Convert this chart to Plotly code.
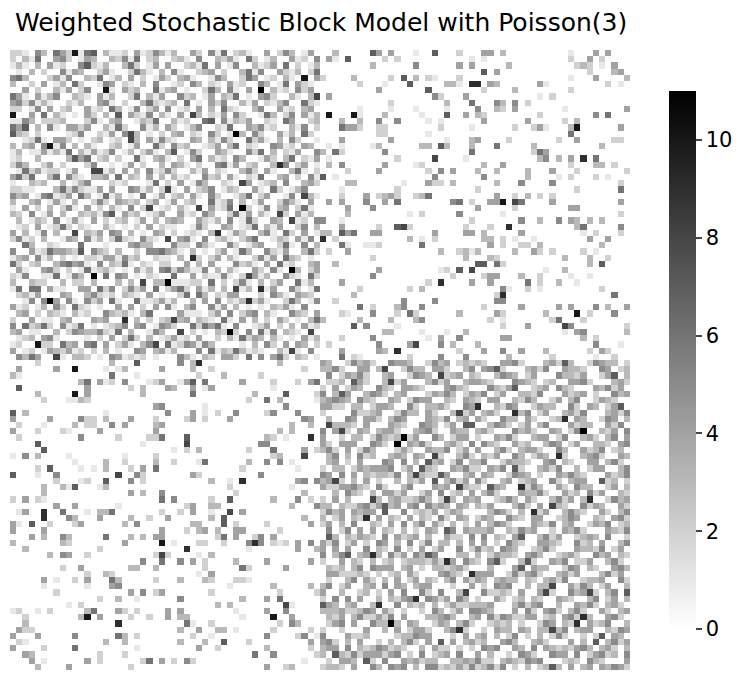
import numpy as np
import plotly.graph_objects as go

# Weighted SBM, 2 blocks of 50 nodes, Poisson(3) weights.
# Matrix is symmetric; values in 25x25 tiles,
# upper triangle only (hex digits 0-b). Diagonal tiles start at the diagonal.
N = 100
TILE = 25

T00 = ["2210530642a16703112041253", "031600452014300325160230", "10304120057213003620140",
       "3020051430024100263103", "002415003260130402014", "40130620015402103050",
       "031402500a104230061", "500321041300260314", "02130045102003621", "3004120630150240",
       "104203070421503", "02510340013260", "4003162005130", "021405830102", "30120830415",
       "0230140062", "501302410", "20061034", "1402003", "030512", "20403", "0160", "302", "14", "0"]

T01 = ["1300420516023100402530140", "0231050032410620130041205", "4002316040150031240602013",
       "0510023402003615004213026", "2034100153002640120310a04", "0120530210412005301604210",
       "340100263051040b031205240", "0052301403260104520031038", "2306010425003140213500621",
       "5012040306210035004120340", "1040830214052001630250413", "0312006705132400210640023",
       "4201350021600435120031502", "03402105201b3052004130620", "2100430315200624103052001",
       "0523001240360210054120430", "3701520043100526030214005", "1020460312053001420360214",
       "0431020056140230039502401", "5200314021003520410036102", "0312005230410216003402051",
       "2040153002108401230500342", "8104023501320041062013500", "0230410520013602400150831",
       "1402300612503014002531040"]

T02 = ["0030000074040001007000200", "0410700000202000000000001", "0000000030000005000000404",
       "0000000000000000000000000", "2000030000020703021000200", "0000002000100070000033109",
       "0000000004000000070000000", "0400000000000000005200040", "0000000000020000000030006",
       "0000001000010001000010000", "0a000a1000300000100070040", "0003003005005000010100000",
       "0006442002200000000200001", "0000000002200000010000000", "0004000000040000000010003",
       "0101000013000000330730003", "3062000000500000000000006", "0100000000002000008000010",
       "0305000000400001200000000", "0000200004000000020504000", "7010000000000000005000000",
       "0000330000000100042203000", "0001000000002000000000000", "0002000402342002360000000",
       "0404000500406000000005602"]

T03 = ["0440300000000001000404000", "0100000000000002004020000", "0000030000000000232010400",
       "0704000000000000002000340", "0000000000000001000400003", "9043000000410000000002010",
       "0200003000000002000000000", "0000000000102000000000000", "0005305020000000000000000",
       "5003204000000010000000004", "3200000000200000000506000", "0400000040000020300000000",
       "0000002002410003a00000040", "0000000000000006000000000", "4000020000000200400000220",
       "0006000003000000000030000", "0000000002640000000000000", "0000000000350304090600000",
       "0300400000000002000330200", "3003000030004000200000002", "0500000030000102000201000",
       "0003000500005000000000020", "2000000000000000200000060", "0004002030202000000000000",
       "0044a08600004000000000040"]

T11 = ["203108041260b201503402610", "041205300261403108204130", "30042130501620043081205",
       "0152004301260314002503", "210390142003510620401", "05023102460013204150",
       "3100520134002610503", "024016300521400362", "40310025140632010", "0052310406120034",
       "3100420510b3024", "02841300521062", "5103024006130", "309140052016", "02053104320",
       "4100263015", "032410500", "10053204", "4201036", "030412", "21080", "0413", "302", "50", "1"]

T12 = ["0000400050000000000000000", "0000300000000010200000500", "5001000000000000000000002",
       "0004000002007820000000020", "3307460044000000004000044", "9020000000000030102000000",
       "0006100112000000600000000", "0200400000000000000300231", "0000000020000000000000030",
       "0030000000000000000000000", "0000000004000000000120708", "0000000050000000000002000",
       "0004000000000000020900004", "0000002000000020300000000", "0000030000000000000000000",
       "0020000000000500005000000", "0000006020003500500000000", "0002100050002062000000300",
       "3000003000030003500000000", "0000070500001000000000000", "0000000000330000100010030",
       "0002000050000000010400500", "0200000005000048000503000", "0004000004309000000000200",
       "0006021000000020000500050"]

T13 = ["4000002000000004400000000", "0000100000000000000000020", "0000000500300504303030000",
       "0020090000000000360000050", "0300000400000000010200020", "0330201001000000004004000",
       "0040200220300000000030000", "3000003004202000020100000", "0032000000000030003002000",
       "7706200000000000003070000", "0000000000010030000000000", "0244000300200001001000000",
       "0040000060200300100000000", "0000510020100000000020000", "0002900000000000000000600",
       "0005500000000000000000000", "0200000400000404000503004", "0004200000030000a02000500",
       "0020100000002600020000000", "0000200040000085000000002", "0000000000000010450000003",
       "0000440000000000030200000", "3000000000000000000500010", "0400500400030000002042000",
       "0000030000002000000100200"]

T22 = ["4300253420054430025340232", "352004403800253304420035", "02435200340025430823403",
       "3074200382400035240034", "243005320443200045320", "00354203400024353024",
       "5320043025440032043", "024430052033420054", "34002533042003824", "2035400043250340",
       "043200543024077", "42003452004330", "3b24005302440", "043520034205", "20043350240",
       "4308200352", "073402503", "32004352", "2740034", "035240", "40832", "2304", "043", "30", "0"]

T23 = ["3200445200034273002543302", "0457200034250043320054023", "2003543024000533240024703",
       "4320005432023004452000342", "0053247002340532000435240", "3502400332500042340200534",
       "2044003253002403500243200", "9003254002433005204302470", "0342009350240034250003425",
       "4200533042002390430025403", "0035420240350004233004250", "34200053420043025b0032405",
       "2004352003440250034203504", "0532004230035402400332045", "4003520344200530042350230",
       "0324005302430920034520043", "3500243320045032004403520", "2043507200342500302440035",
       "0430025430200435320004235", "5200340234005203440072302", "2074300925300420533002403",
       "0352000433520042305240032", "4002353042003524039002534", "3240003520408320052430042",
       "0035420309240035320042035"]

T33 = ["2430053204400235400320452", "035420004325034002435023", "40032534002043520004325",
       "3204700352400234305002", "053200443200523040035", "43002352000433250240",
       "2045300234200534032", "372004350224003520", "04330025403200453", "5200342400035240",
       "034250023340052", "38004253024003", "2005348203507", "432003502403", "00435203420",
       "3520042034", "293004520", "04235003", "4003254", "270430", "03524", "4203", "305", "04", "2"]

tiles = {(0, 0): T00, (0, 1): T01, (0, 2): T02, (0, 3): T03,
         (1, 1): T11, (1, 2): T12, (1, 3): T13,
         (2, 2): T22, (2, 3): T23, (3, 3): T33}

adj = np.zeros((N, N), dtype=int)
for (bi, bj), rows in tiles.items():
    for r, s in enumerate(rows):
        i = bi * TILE + r
        start = i if bi == bj else bj * TILE
        for k, ch in enumerate(s):
            adj[i, start + k] = int(ch, 16)
adj = np.triu(adj) + np.triu(adj, 1).T

TITLE = "Weighted Stochastic Block Model with Poisson(3)"
CB_TICKS = [0, 2, 4, 6, 8, 10]

fig = go.Figure(go.Heatmap(
    z=adj,
    colorscale=[[0, "white"], [1, "black"]],
    zmin=0, zmax=11,
    colorbar=dict(
        thickness=27, len=0.868, lenmode="fraction",
        x=1.063, xanchor="left", xpad=0,
        y=0.5, yanchor="middle", ypad=0,
        outlinewidth=0,
        tickvals=CB_TICKS, ticks="outside", ticklen=6, tickwidth=1.5,
        tickfont=dict(size=21, color="black"),
    ),
    hovertemplate="row %{y}, col %{x}: %{z}<extra></extra>",
))

fig.update_xaxes(range=[-0.5, N - 0.5], showticklabels=False, showgrid=False,
                 zeroline=False, ticks="")
fig.update_yaxes(range=[N - 0.5, -0.5], showticklabels=False, showgrid=False,
                 zeroline=False, ticks="")

# page body adds an 8px offset, so margins are shifted back by that much
fig.update_layout(
    width=752, height=681,
    margin=dict(l=2, r=130, t=42, b=19),
    paper_bgcolor="white", plot_bgcolor="white",
    font=dict(family="DejaVu Sans", color="black"),
    title=dict(text=TITLE, x=0.0093, xanchor="left", xref="container",
               y=0.979, yanchor="middle", yref="container",
               font=dict(size=25, color="black")),
)

fig.write_html("out.html")
